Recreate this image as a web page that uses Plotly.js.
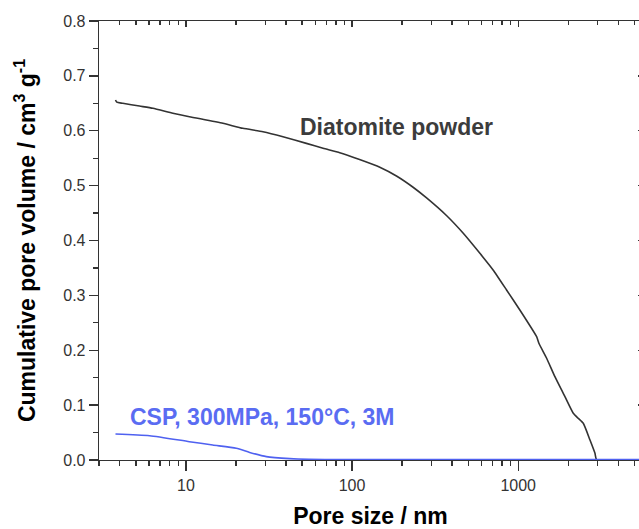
<!DOCTYPE html>
<html>
<head>
<meta charset="utf-8">
<script src="https://cdn.plot.ly/plotly-3.0.1.min.js"></script>
<style>
html, body { margin: 0; padding: 0; overflow: hidden; background: #fff; }
#chart { width: 645px; height: 529px; }
</style>
</head>
<body>
<div id="chart"></div>
<script>
// Diatomite powder: pore size (nm) vs cumulative pore volume (cm3/g)
const diatomiteX = [3.77, 3.84, 4.17, 5.26, 6.33, 8.35, 10.5, 16.7, 22.0, 29.1, 38.4, 53.1, 66.9, 84.3, 111, 146.9, 185, 233, 281, 370, 467, 588, 706, 851, 1023, 1291, 1332, 1483, 1663, 1911, 2145, 2298, 2464, 2704, 2897, 2967, 5600];
const diatomiteY = [0.656, 0.652, 0.650, 0.645, 0.641, 0.632, 0.6256, 0.6136, 0.6044, 0.5983, 0.5892, 0.577, 0.568, 0.560, 0.5475, 0.5335, 0.5175, 0.497, 0.4775, 0.4455, 0.4131, 0.3766, 0.3463, 0.3098, 0.2734, 0.2247, 0.2127, 0.1854, 0.1518, 0.1154, 0.0851, 0.076, 0.0669, 0.0364, 0.0122, 0.0, 0.0];

// CSP, 300MPa, 150°C, 3M
const cspX = [3.77, 6.05, 10.5, 14.5, 20.1, 24.2, 30.5, 42.2, 55.0, 80.0, 5600];
const cspY = [0.0474, 0.0443, 0.0334, 0.0273, 0.0213, 0.0138, 0.0062, 0.0025, 0.0012, 0.0008, 0.0008];

// Axis ticks
const xMajorTicks = [10, 100, 1000];
const xMajorLabels = ['10', '100', '1000'];
const xMinorTicks = [3, 4, 5, 6, 7, 8, 9, 20, 30, 40, 50, 60, 70, 80, 90, 200, 300, 400, 500, 600, 700, 800, 900, 2000, 3000, 4000, 5000];
const yTicks = [0, 0.1, 0.2, 0.3, 0.4, 0.5, 0.6, 0.7, 0.8];
const yTickLabels = ['0.0', '0.1', '0.2', '0.3', '0.4', '0.5', '0.6', '0.7', '0.8'];

const FONT = 'Liberation Sans, Arial, sans-serif';
const AXC = '#333333';
const xRange = [Math.log10(3), 3.745];
const yRange = [0, 0.8];

const traces = [
  { x: diatomiteX, y: diatomiteY, mode: 'lines', line: { color: '#333333', width: 1.6, shape: 'spline', smoothing: 0.5 }, hoverinfo: 'skip', showlegend: false },
  { x: cspX, y: cspY, mode: 'lines', line: { color: '#4f61f0', width: 1.6, shape: 'spline', smoothing: 0.6 }, hoverinfo: 'skip', showlegend: false },
  { x: [], y: [], xaxis: 'x2', yaxis: 'y2', mode: 'lines', showlegend: false, hoverinfo: 'skip' }
];

const layout = {
  width: 645, height: 529,
  margin: { l: 99, r: 3, t: 21, b: 69 },
  paper_bgcolor: '#ffffff', plot_bgcolor: '#ffffff',
  showlegend: false,
  font: { family: FONT, color: AXC },
  xaxis: {
    type: 'log', range: xRange,
    tickmode: 'array', tickvals: xMajorTicks, ticktext: xMajorLabels,
    ticks: 'outside', ticklen: 10, tickwidth: 1.3, tickcolor: AXC,
    showline: true, linecolor: AXC, linewidth: 1.3,
    showgrid: false, zeroline: false,
    tickfont: { family: FONT, size: 16, color: AXC },
    minor: { tickmode: 'array', tickvals: xMinorTicks, ticks: 'outside', ticklen: 5, tickwidth: 1.3, tickcolor: AXC, showgrid: false },
    title: { text: 'Pore size / nm', font: { family: FONT, size: 23, color: '#000', weight: 'bold' }, standoff: 17 }
  },
  yaxis: {
    range: yRange,
    tickmode: 'array', tickvals: yTicks, ticktext: yTickLabels,
    ticks: 'outside', ticklen: 9, tickwidth: 1.3, tickcolor: AXC,
    showline: true, linecolor: AXC, linewidth: 1.3,
    showgrid: false, zeroline: false,
    tickfont: { family: FONT, size: 16, color: AXC },
    minor: { dtick: 0.05, ticks: 'outside', ticklen: 5, tickwidth: 1.3, tickcolor: AXC, showgrid: false },
    title: { text: 'Cumulative pore volume / cm<sup>3</sup> g<sup>-1</sup>', font: { family: FONT, size: 23, color: '#000', weight: 'bold' }, standoff: 21 }
  },
  xaxis2: {
    type: 'log', range: xRange, overlaying: 'x', side: 'top', anchor: 'y',
    tickmode: 'array', tickvals: xMajorTicks, showticklabels: false,
    ticks: 'inside', ticklen: 6, tickwidth: 1.3, tickcolor: AXC,
    showline: true, linecolor: AXC, linewidth: 1.3, showgrid: false, zeroline: false,
    minor: { tickmode: 'array', tickvals: xMinorTicks, ticks: 'inside', ticklen: 4, tickwidth: 1.3, tickcolor: AXC, showgrid: false }
  },
  yaxis2: {
    range: yRange, overlaying: 'y', side: 'right', anchor: 'x',
    tickmode: 'array', tickvals: yTicks, showticklabels: false,
    ticks: 'inside', ticklen: 4, tickwidth: 1.3, tickcolor: AXC,
    showline: true, linecolor: AXC, linewidth: 1.3, showgrid: false, zeroline: false,
    minor: { dtick: 0.05, ticks: 'inside', ticklen: 2, tickwidth: 1.3, tickcolor: AXC, showgrid: false }
  },
  annotations: [
    { xref: 'x', yref: 'y', x: 2.2675, y: 0.607, text: 'Diatomite powder', showarrow: false,
      xanchor: 'center', yanchor: 'middle', font: { family: FONT, size: 23, color: '#3c3c3c', weight: 'bold' } },
    { xref: 'x', yref: 'y', x: 1.459, y: 0.0784, text: 'CSP, 300MPa, 150°C, 3M', showarrow: false,
      xanchor: 'center', yanchor: 'middle', font: { family: FONT, size: 23, color: '#5a6cf2', weight: 'bold' } }
  ]
};

Plotly.newPlot('chart', traces, layout, { staticPlot: true, displayModeBar: false });
</script>
</body>
</html>
